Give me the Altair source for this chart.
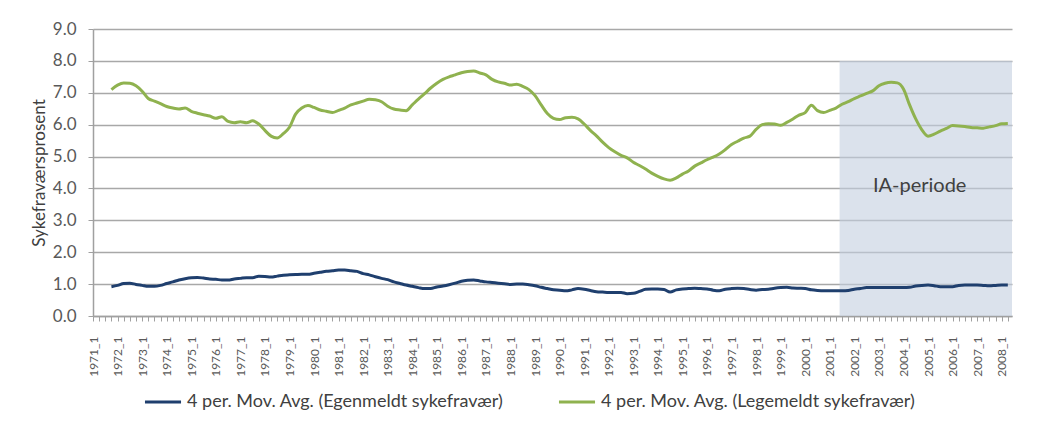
import altair as alt
import pandas as pd

# Quarterly 4-period moving averages, 1971_4 .. 2008_2
start_year = 1971
start_q = 4

egen = [
    0.92,
    0.96, 1.02, 1.03, 0.99,
    0.96, 0.93, 0.93, 0.96,
    1.02, 1.07, 1.13, 1.17,
    1.20, 1.21, 1.19, 1.16,
    1.15, 1.13, 1.13, 1.16,
    1.18, 1.20, 1.20, 1.25,
    1.24, 1.22, 1.25, 1.28,
    1.29, 1.30, 1.31, 1.31,
    1.34, 1.37, 1.40, 1.42,
    1.44, 1.44, 1.42, 1.40,
    1.33, 1.29, 1.23, 1.18,
    1.14, 1.07, 1.02, 0.97,
    0.93, 0.89, 0.86, 0.86,
    0.91, 0.94, 0.98, 1.03,
    1.09, 1.12, 1.13, 1.10,
    1.07, 1.05, 1.03, 1.01,
    0.99, 1.00, 1.00, 0.98,
    0.95, 0.90, 0.86, 0.82,
    0.81, 0.79, 0.82, 0.86,
    0.84, 0.80, 0.76, 0.75,
    0.74, 0.74, 0.74, 0.70,
    0.71, 0.77, 0.84, 0.85,
    0.85, 0.83, 0.75, 0.82,
    0.85, 0.86, 0.87, 0.86,
    0.85, 0.81, 0.79, 0.84,
    0.86, 0.87, 0.86, 0.83,
    0.81, 0.83, 0.84, 0.87,
    0.89, 0.90, 0.88, 0.87,
    0.86, 0.82, 0.80, 0.79,
    0.79, 0.79, 0.79, 0.80,
    0.84, 0.86, 0.89, 0.89,
    0.89, 0.89, 0.89, 0.89,
    0.89, 0.90, 0.94, 0.96,
    0.97, 0.95, 0.92, 0.92,
    0.92, 0.96, 0.97, 0.97,
    0.97, 0.96, 0.95, 0.96,
    0.97, 0.97,
]

lege = [
    7.10,
    7.24, 7.31, 7.30, 7.22,
    7.05, 6.82, 6.74, 6.66,
    6.57, 6.52, 6.49, 6.52,
    6.42, 6.36, 6.31, 6.27,
    6.20, 6.25, 6.10, 6.06,
    6.09, 6.06, 6.12, 6.02,
    5.82, 5.64, 5.58, 5.72,
    5.92, 6.33, 6.52, 6.60,
    6.54, 6.46, 6.42, 6.38,
    6.45, 6.52, 6.62, 6.68,
    6.74, 6.80, 6.78, 6.72,
    6.58, 6.49, 6.46, 6.44,
    6.62, 6.80, 6.97, 7.15,
    7.30, 7.42, 7.50, 7.56,
    7.63, 7.67, 7.68, 7.62,
    7.56, 7.42, 7.34, 7.30,
    7.24, 7.27, 7.20, 7.10,
    6.91, 6.62, 6.35, 6.20,
    6.16, 6.22, 6.23, 6.18,
    6.02, 5.82, 5.65, 5.45,
    5.28, 5.15, 5.04, 4.96,
    4.82, 4.72, 4.61, 4.48,
    4.38, 4.30, 4.26, 4.33,
    4.45, 4.55, 4.70, 4.80,
    4.90, 4.98, 5.08, 5.22,
    5.38, 5.48, 5.58, 5.64,
    5.85, 6.00, 6.03, 6.02,
    5.98, 6.07, 6.18, 6.30,
    6.38, 6.61, 6.44, 6.38,
    6.45, 6.52, 6.64, 6.72,
    6.82, 6.90, 6.98, 7.06,
    7.22, 7.30, 7.33, 7.31,
    7.12, 6.62, 6.18, 5.84,
    5.64, 5.70, 5.80, 5.88,
    5.97, 5.96, 5.94, 5.91,
    5.90, 5.89, 5.93, 5.97,
    6.03, 6.04,
]

series_names = [
    "4 per. Mov. Avg. (Egenmeldt sykefravær)",
    "4 per. Mov. Avg. (Legemeldt sykefravær)",
]
series_colors = ["#1f3f6e", "#8fb24f"]

first_year = 1971
last_year = 2008
x_end = 2008.42
ia_start = 2001.4
ia_top = 8.0
ia_label = "IA-periode"
ia_label_x = 2004.66
ia_label_y = 4.07

y_ticks = [0, 1, 2, 3, 4, 5, 6, 7, 8, 9]


def quarter_pos(i):
    q_index = (start_q - 1) + i
    return start_year + q_index / 4.0


rows = []
for i, v in enumerate(egen):
    rows.append({"t": quarter_pos(i), "v": v, "serie": series_names[0]})
for i, v in enumerate(lege):
    rows.append({"t": quarter_pos(i), "v": v, "serie": series_names[1]})
df = pd.DataFrame(rows)

tick_vals = [y + q / 4.0 for y in range(first_year, last_year + 1) for q in range(4)]
tick_vals = [t for t in tick_vals if t <= x_end]

x_scale = alt.Scale(domain=[first_year, x_end], nice=False, zero=False)
y_scale = alt.Scale(domain=[0, 9], nice=False)

FONT = "Lato"

x_axis = alt.Axis(values=tick_vals,
                  labelExpr="datum.value % 1 == 0 ? datum.value + '_1' : ''",
                  labelAngle=-90, labelFontSize=12, labelColor="#595959",
                  labelFont=FONT, labelPadding=15,
                  tickSize=5, tickColor="#a0a0a0",
                  domainColor="#a0a0a0", domainWidth=1.5,
                  grid=False, title=None, labelOverlap=False,
                  labelBound=False, labelFlush=False)
y_axis = alt.Axis(values=y_ticks, format=".1f", labelFontSize=17,
                  labelColor="#595959", labelFont=FONT, labelOverlap=False,
                  labelPadding=12,
                  tickSize=5, tickColor="#a0a0a0",
                  domainColor="#a0a0a0", domainWidth=1.5,
                  gridColor="#a8a8a8", gridWidth=1.5,
                  title="Sykefraværsprosent", titleFont=FONT,
                  titleFontSize=17, titleFontWeight="normal",
                  titleColor="#404040", titlePadding=4)

shade_df = pd.DataFrame([{"x1": ia_start, "x2": x_end, "y1": 0, "y2": ia_top}])
shade = alt.Chart(shade_df).mark_rect(color="#c3cfe0", opacity=0.6).encode(
    x=alt.X("x1:Q", scale=x_scale, axis=x_axis),
    x2="x2:Q",
    y=alt.Y("y1:Q", scale=y_scale, axis=y_axis),
    y2="y2:Q",
)

lines = alt.Chart(df).mark_line(strokeWidth=3, interpolate="monotone").encode(
    x=alt.X("t:Q", scale=x_scale, axis=x_axis),
    y=alt.Y("v:Q", scale=y_scale, axis=y_axis),
    color=alt.Color("serie:N",
                    scale=alt.Scale(domain=series_names, range=series_colors),
                    legend=alt.Legend(orient="none", legendX=50, legendY=353,
                                      direction="horizontal", title=None,
                                      symbolType="stroke", symbolStrokeWidth=3,
                                      symbolSize=1300, labelFontSize=18,
                                      labelFont=FONT, labelColor="#404040",
                                      labelLimit=0,
                                      columnPadding=48, labelOffset=4)),
)

label_df = pd.DataFrame([{"x": ia_label_x, "y": ia_label_y, "txt": ia_label}])
label = alt.Chart(label_df).mark_text(fontSize=20, font=FONT, color="#404040").encode(
    x=alt.X("x:Q", scale=x_scale, axis=x_axis),
    y=alt.Y("y:Q", scale=y_scale, axis=y_axis),
    text="txt:N",
)

chart = alt.layer(shade, lines, label).properties(
    width=919, height=287,
    autosize=alt.AutoSizeParams(type="none"),
    padding={"left": 85, "top": 21, "right": 20, "bottom": 98},
    background="white",
).configure_view(stroke=None)

chart.save("out.html", embed_options={"renderer": "svg", "actions": False})
